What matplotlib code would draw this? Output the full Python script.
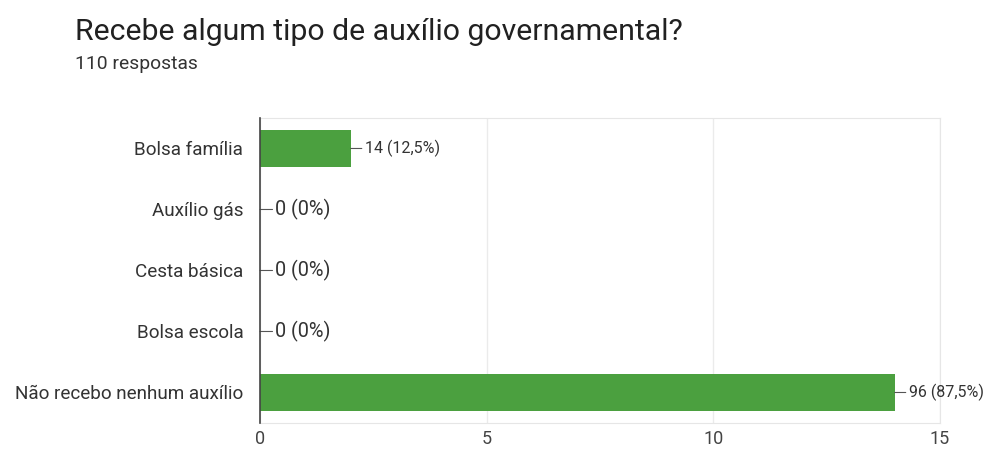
import matplotlib.pyplot as plt

categories = ['Bolsa família', 'Auxílio gás', 'Cesta básica', 'Bolsa escola', 'Não recebo nenhum auxílio']
bar_values = [2, 0, 0, 0, 14]
response_counts = [14, 0, 0, 0, 96]
x_ticks = [0, 5, 10, 15]

title = 'Recebe algum tipo de auxílio governamental?'
subtitle = '110 respostas'

plt.rcParams['font.family'] = ['Roboto', 'DejaVu Sans']

fig = plt.figure(figsize=(9.91, 4.51), dpi=100)
ax = fig.add_axes([0.2624, 0.0621, 0.6861, 0.6763])

total = sum(bar_values)
ypos = list(range(len(categories)))
ax.barh(ypos, bar_values, height=0.6, color='#4ba03f', zorder=3)

# value labels with a short leader line from the bar end
for y, v, n in zip(ypos, bar_values, response_counts):
    pct = f'{100 * v / total:.1f}'.replace('.', ',').replace(',0', '') if total else '0'
    label = f'{n} ({pct}%)'
    size = 11.5 if v else 14.3
    offset = 10 if v else 11
    ax.annotate(label, xy=(v, y), xytext=(offset, 0), textcoords='offset points',
                va='center', ha='left', fontsize=size, color='#333333',
                arrowprops=dict(arrowstyle='-', color='#555555', lw=0.8,
                                shrinkA=0, shrinkB=0))

ax.set_xlim(0, 15)
ax.set_ylim(len(categories) - 0.5, -0.5)
ax.set_xticks(x_ticks)
ax.set_xticklabels([str(t) for t in x_ticks])
ax.set_yticks(ypos)
ax.set_yticklabels(categories)
ax.tick_params(axis='y', length=0, pad=12, labelsize=13.6, labelcolor='#333333')
ax.tick_params(axis='x', length=0, pad=5, labelsize=13, labelcolor='#444444')

ax.grid(axis='x', color='#ebebeb', lw=1, zorder=0)
for side in ['top', 'right', 'bottom']:
    ax.spines[side].set_color('#e6e6e6')
ax.spines['left'].set_color('#444444')
ax.spines['left'].set_linewidth(1.2)
ax.spines['left'].set_zorder(4)

fig.text(0.0757, 0.911, title, fontsize=21.8, color='#212121', ha='left', va='baseline')
fig.text(0.0757, 0.846, subtitle, fontsize=13.9, color='#333333', ha='left', va='baseline')

fig.savefig('out.png', dpi=100)
